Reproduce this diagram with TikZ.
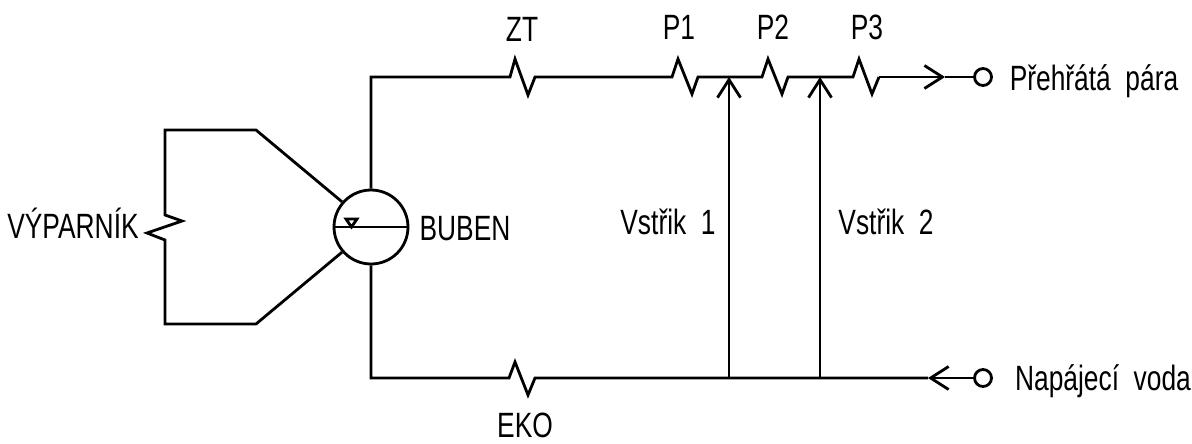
\documentclass[tikz,border=0pt]{standalone}
\usepackage{fontspec}
\setmainfont[FakeStretch=0.75]{Liberation Sans}
\usetikzlibrary{arrows.meta}

\tikzset{
	pipe/.style={line width=1.6pt,line join=miter},
	label/.style={font=\fontsize{20}{24}\selectfont,inner sep=0pt,anchor=base},
	terminal/.style={circle,draw,line width=1.6pt,inner sep=0pt,minimum size=0.34cm},
	barb/.style={-{Straight Barb[length=0.36cm,width=0.46cm,line width=1.6pt]}},
}

\begin{document}
\begin{tikzpicture}[x=0.02cm,y=-0.02cm]
	\useasboundingbox (0,0) rectangle (1192,443);
	% Drum with water level
	\node (drum) [circle,draw,line width=1.6pt,minimum size=1.48cm,inner sep=0pt] at (371,227) {};
	\draw [pipe] (drum.west) -- (drum.east);
	\draw [pipe] (346,219) -- (357,219) -- (351.5,227) -- cycle;
	% Evaporator loop on the left
	\coordinate (c_1) at (256,130);
	\coordinate (c_2) at (165,130);
	\coordinate (c_3) at (165,324);
	\coordinate (c_4) at (256,324);
	\draw [pipe] (drum.139) -- (c_1) -- (c_2) -- (165,215) -- ++(17,6) -- ++(-35,12) -- ++(18,7)
	-- (c_3) -- (c_4) -- (drum.221);
	% Upper line with the heaters
	\coordinate (zt) at (510,77);
	\coordinate (p_1) at (672,77);
	\coordinate (p_2) at (762,77);
	\coordinate (p_3) at (853,77);
	\coordinate (p_e) at (879,77);
	\coordinate (tip_a) at (945,77);
	\node (out) [terminal] at (983,77) {};
	\draw [pipe] (drum.north) |- (zt) -- ++(5,-18) -- ++(13,36) -- ++(7,-18)
	-- (p_1) -- ++(6,-18) -- ++(14,35) -- ++(6,-17)
	-- (p_2) -- ++(6,-18) -- ++(14,35) -- ++(6,-17)
	-- (p_3) -- ++(6,-18) -- ++(13,35) -- ++(7,-17);
	\draw [pipe,barb] (p_e) -- (tip_a);
	\draw [pipe] (tip_a) -- (out);
	% Lower line with the feed
	\coordinate (eko) at (509,378);
	\coordinate (tip_b) at (928,378);
	\coordinate (j_1) at (729,378);
	\coordinate (j_2) at (820,378);
	\coordinate (k_1) at (729,77);
	\coordinate (k_2) at (820,77);
	\node (in) [terminal] at (983,378) {};
	\draw [pipe,barb] (in) -- (tip_b);
	\draw [pipe] (drum.south) |- (eko) -- ++(6,-16) -- ++(13,33) -- ++(7,-17) -- (tip_b);
	% Injection lines
	\draw [pipe,barb] (j_1) -- (k_1);
	\draw [pipe,barb] (j_2) -- (k_2);
	% Labels
	\node (lzt) [label] at (522,41) {ZT};
	\node (lp1) [label] at (679,39) {P1};
	\node (lp2) [label] at (773,39) {P2};
	\node (lp3) [label] at (867,39) {P3};
	\node (lbuben) [label] at (465,240) {BUBEN};
	\node (lvyp) [label] at (73,238) {VÝPARNÍK};
	\node (lv1) [label] at (668,234) {Vstřik\ \ 1};
	\node (lv2) [label] at (886,234) {Vstřik\ \ 2};
	\node (lout) [label] at (1094,90) {Přehřátá\ \ pára};
	\node (lin) [label] at (1103,390) {Napájecí\ \ voda};
	\node (leko) [label] at (525,437) {EKO};
\end{tikzpicture}
\end{document}
